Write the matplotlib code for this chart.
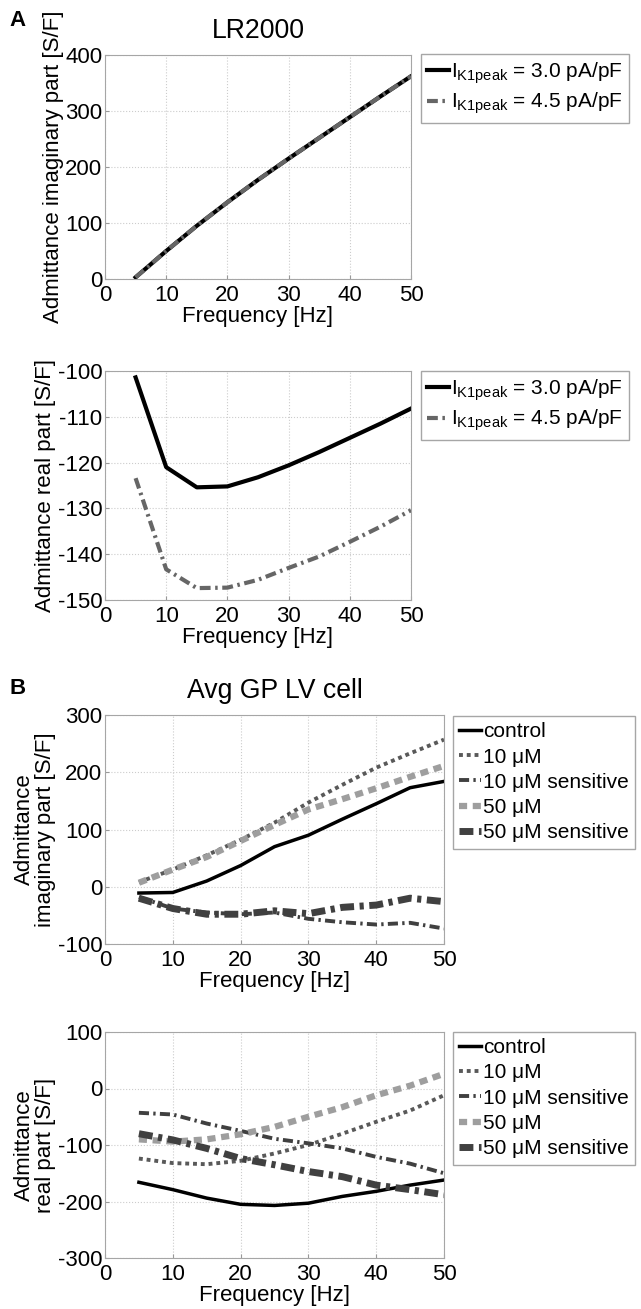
import numpy as np
import matplotlib
matplotlib.use('Agg')
import matplotlib.pyplot as plt

plt.rcParams['font.family'] = ['Liberation Sans', 'DejaVu Sans']
plt.rcParams['mathtext.fontset'] = 'custom'
plt.rcParams['mathtext.rm'] = 'Liberation Sans'
plt.rcParams['mathtext.it'] = 'Liberation Sans:italic'
plt.rcParams['axes.unicode_minus'] = False
plt.rcParams['font.size'] = 16

# frequency grid (Hz)
freq = [5, 10, 15, 20, 25, 30, 35, 40, 45, 50]

# panel A, LR2000 model
lr_imag_30 = [3, 50, 95, 137, 177, 215, 252, 289, 326, 362]
lr_imag_45 = [3, 50, 95, 137, 177, 215, 252, 289, 326, 362]
lr_real_30 = [-101.4, -121.0, -125.4, -125.2, -123.2, -120.6, -117.7, -114.6, -111.5, -108.2]
lr_real_45 = [-123.4, -143.3, -147.4, -147.3, -145.6, -143.0, -140.5, -137.3, -134.0, -130.4]
lr_labels = [r'I$_{\rm K1peak}$ = 3.0 pA/pF', r'I$_{\rm K1peak}$ = 4.5 pA/pF']

# panel B, average GP LV cell
gp_labels = ['control', '10 \u03bcM', '10 \u03bcM sensitive', '50 \u03bcM', '50 \u03bcM sensitive']
gp_imag = [
    [-11, -10, 10, 37, 70, 90, 118, 145, 173, 184],
    [8, 30, 55, 82, 112, 147, 178, 208, 233, 257],
    [-18, -38, -45, -48, -45, -56, -62, -66, -63, -73],
    [7, 30, 52, 80, 108, 135, 153, 172, 192, 211],
    [-20, -38, -48, -48, -42, -47, -36, -32, -20, -26],
]
gp_real = [
    [-166, -179, -194, -205, -207, -203, -191, -182, -171, -162],
    [-124, -132, -134, -128, -115, -100, -80, -59, -39, -12],
    [-43, -46, -62, -75, -89, -97, -106, -121, -133, -150],
    [-90, -94, -90, -81, -68, -50, -33, -12, 5, 26],
    [-80, -91, -106, -124, -135, -147, -156, -171, -179, -188],
]

gp_styles = [
    dict(color='black', lw=2.5, ls='-'),
    dict(color='0.35', lw=2.8, dashes=(1, 1)),
    dict(color='0.25', lw=2.8, dashes=(2.6, 1.1, 0.6, 1.1)),
    dict(color='0.62', lw=4.5, dashes=(1.3, 0.9)),
    dict(color='0.25', lw=5, dashes=(2, 0.8, 0.6, 0.8)),
]

W, H = 641, 1309
fig = plt.figure(figsize=(W / 100, H / 100), dpi=100)


def px_axes(l, t, r, b):
    return fig.add_axes([l / W, 1 - b / H, (r - l) / W, (b - t) / H])


def style_axes(ax, ylim, yticks):
    ax.set_xlim(0, 50)
    ax.set_xticks(range(0, 51, 10))
    ax.set_ylim(*ylim)
    ax.set_yticks(yticks)
    ax.grid(True, ls=':', color='0.8', lw=0.8)
    for s in ax.spines.values():
        s.set_color('0.65')
    ax.tick_params(direction='in', length=3, color='0.6')
    ax.tick_params(axis='x', pad=4)
    ax.tick_params(axis='y', pad=2)
    ax.set_xlabel('Frequency [Hz]', labelpad=0)


def add_legend(ax, x, y, spacing):
    leg = ax.legend(loc='upper left', bbox_to_anchor=(x / W, 1 - y / H),
                    bbox_transform=fig.transFigure, borderaxespad=0,
                    handlelength=1.05, handletextpad=0.1, labelspacing=spacing,
                    borderpad=0.3, fancybox=False, framealpha=1, fontsize=15)
    leg.get_frame().set_edgecolor('0.65')
    return leg


# A top: imaginary part
ax1 = px_axes(105, 55, 411, 279)
ax1.plot(freq, lr_imag_30, color='black', lw=3, label=lr_labels[0])
ax1.plot(freq, lr_imag_45, color='0.4', lw=3, dashes=(2.6, 1.1, 0.6, 1.1), label=lr_labels[1])
style_axes(ax1, (0, 400), range(0, 401, 100))
ax1.set_ylabel('Admittance imaginary part [S/F]', labelpad=1)
ax1.set_title('LR2000', pad=12)
add_legend(ax1, 421, 54, 0.25)

# A bottom: real part
ax2 = px_axes(105, 371, 411, 600)
ax2.plot(freq, lr_real_30, color='black', lw=3, label=lr_labels[0])
ax2.plot(freq, lr_real_45, color='0.4', lw=3, dashes=(2.6, 1.1, 0.6, 1.1), label=lr_labels[1])
style_axes(ax2, (-150, -100), range(-150, -99, 10))
ax2.set_ylabel('Admittance real part [S/F]', labelpad=1)
add_legend(ax2, 421, 371, 0.25)

# B top: imaginary part
ax3 = px_axes(105, 715, 444, 944)
for vals, lab, st in zip(gp_imag, gp_labels, gp_styles):
    ax3.plot(freq, vals, label=lab, **st)
style_axes(ax3, (-100, 300), range(-100, 301, 100))
ax3.set_ylabel('Admittance\nimaginary part [S/F]', labelpad=1, linespacing=1.0)
ax3.set_title('Avg GP LV cell', pad=12)
add_legend(ax3, 453, 716, 0.3)

# B bottom: real part
ax4 = px_axes(105, 1032, 444, 1258)
for vals, lab, st in zip(gp_real, gp_labels, gp_styles):
    ax4.plot(freq, vals, label=lab, **st)
style_axes(ax4, (-300, 100), range(-300, 101, 100))
ax4.set_ylabel('Admittance\nreal part [S/F]', labelpad=1, linespacing=1.0)
add_legend(ax4, 453, 1032, 0.3)

fig.text(18 / W, 1 - 21 / H, 'A', fontsize=16, fontweight='bold', ha='center', va='center')
fig.text(18 / W, 1 - 688 / H, 'B', fontsize=16, fontweight='bold', ha='center', va='center')

fig.savefig('out.png', dpi=100)
